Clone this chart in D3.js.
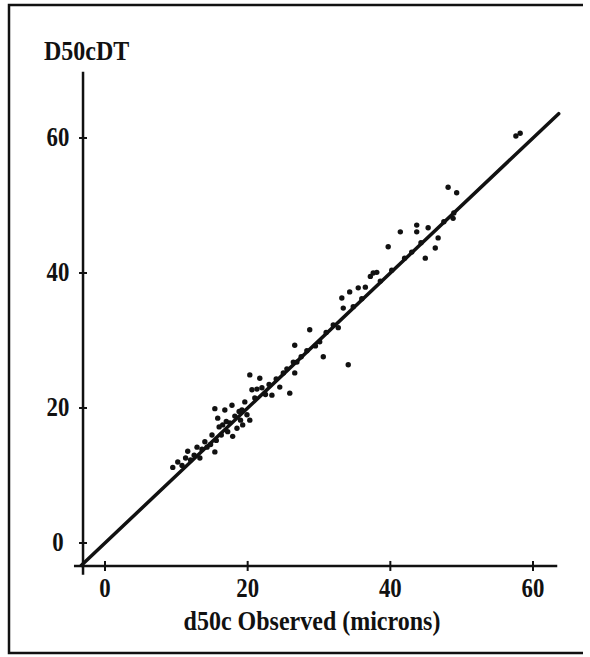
<!DOCTYPE html>
<html>
<head>
<meta charset="utf-8">
<script src="https://cdn.jsdelivr.net/npm/d3@7"></script>
<style>
body { margin: 0; background: #fff; }
text { font-family: "Liberation Serif", "Times New Roman", serif; font-weight: bold; font-size: 24px; fill: #111; }
</style>
</head>
<body>
<div id="plot"></div>
<script>
// observed d50c (microns) vs D50cDT
var observed = [9.5, 10.2, 10.8, 11.3, 11.6, 12.0, 12.5, 12.9, 13.3, 13.6, 14.0, 14.3, 14.8, 15.4, 15.0, 15.4, 15.6,
  15.8, 16.0, 16.3, 16.5, 16.8, 17.0, 17.2, 17.5, 17.8, 17.9, 18.2, 18.5, 18.8, 19.0, 19.2, 19.3, 19.6, 19.9, 20.3, 20.3, 20.6, 21.0, 21.3, 21.7, 22.0,
  22.5, 23.0, 23.4, 24.0, 24.5, 25.0, 25.5, 25.9, 26.4, 26.6, 26.6, 26.9, 27.5, 28.3, 28.7, 29.5, 30.1, 30.6, 31.0,
  32.0, 32.7, 33.2, 33.4, 34.1, 34.3, 34.8, 35.5, 36.0, 36.5, 37.2, 37.6, 38.1, 38.6, 39.7, 40.2,
  41.4, 42.0, 43.0, 43.7, 43.7, 44.3, 44.9, 45.3, 46.3, 46.7, 47.5, 48.1, 48.8, 48.9, 49.3,
  57.6, 58.2];
var predicted = [11.2, 12.0, 11.5, 12.6, 13.6, 12.3, 13.0, 14.2, 12.6, 13.9, 15.0, 14.2, 14.6, 13.5, 16.0, 19.9, 15.2,
  18.5, 17.2, 16.0, 17.5, 19.7, 18.0, 16.5, 17.8, 20.4, 15.8, 18.8, 17.0, 19.5, 18.2, 19.7, 17.5, 20.9, 19.0, 18.2, 24.9, 22.7, 21.5, 22.8, 24.4, 23.0,
  22.0, 23.5, 21.9, 24.3, 23.1, 25.2, 25.8, 22.2, 26.8, 25.2, 29.3, 26.8, 27.6, 28.5, 31.6, 29.2, 29.8, 27.6, 31.2,
  32.3, 31.9, 36.3, 34.8, 26.4, 37.2, 35.0, 37.8, 36.2, 37.9, 39.5, 40.0, 40.1, 38.8, 43.9, 40.4,
  46.1, 42.2, 43.1, 47.1, 46.1, 44.5, 42.2, 46.7, 43.7, 45.2, 47.6, 52.7, 48.1, 48.9, 51.9,
  60.3, 60.7];
var fitLine = [-3.3, 63.6];
var xTicks = [0, 20, 40, 60];
var yTicks = [0, 20, 40, 60];

var W = 590, H = 657;
var svg = d3.select("#plot").append("svg").attr("width", W).attr("height", H);

var x = d3.scaleLinear().domain([0, 60]).range([105, 533]);
var y = d3.scaleLinear().domain([0, 60]).range([543, 138]);

// frame (top, left, bottom)
svg.append("path").attr("d", "M583,5H9V653H583").attr("fill", "none").attr("stroke", "#111").attr("stroke-width", 2.5);

var ax = x(-3.08), ay = y(-3.4);

// axes lines
svg.append("line").attr("x1", ax).attr("x2", ax).attr("y1", y(69.8)).attr("y2", y(-4.7)).attr("stroke", "#111").attr("stroke-width", 2.5);
svg.append("line").attr("x1", x(-4.35)).attr("x2", x(63.4)).attr("y1", ay).attr("y2", ay).attr("stroke", "#111").attr("stroke-width", 2.5);

// ticks
svg.selectAll(".yt").data(yTicks).enter().append("line")
  .attr("x1", ax - 4).attr("x2", ax + 4).attr("y1", function(d) { return y(d); }).attr("y2", function(d) { return y(d); })
  .attr("stroke", "#111").attr("stroke-width", 2);
svg.selectAll(".xt").data(xTicks).enter().append("line")
  .attr("y1", ay - 5).attr("y2", ay + 5).attr("x1", function(d) { return x(d); }).attr("x2", function(d) { return x(d); })
  .attr("stroke", "#111").attr("stroke-width", 2);

// tick labels, stretched a bit to look like the tall scanned type
svg.selectAll(".yl").data(yTicks).enter().append("text")
  .attr("transform", function(d) { return "translate(58," + (y(d) + 8) + ") scale(0.95,1.12)"; })
  .attr("text-anchor", "middle").text(function(d) { return d; });
svg.selectAll(".xl").data(xTicks).enter().append("text")
  .attr("transform", function(d) { return "translate(" + x(d) + ",597) scale(0.95,1.12)"; })
  .attr("text-anchor", "middle").text(function(d) { return d; });

// titles
svg.append("text").attr("transform", "translate(44,60) scale(1,1.1)").text("D50cDT");
svg.append("text").attr("transform", "translate(312,630) scale(1,1.1)").attr("text-anchor", "middle").text("d50c Observed (microns)");

// fitted 1:1 line
svg.append("line").attr("x1", x(fitLine[0])).attr("y1", y(fitLine[0])).attr("x2", x(fitLine[1])).attr("y2", y(fitLine[1]))
  .attr("stroke", "#111").attr("stroke-width", 3.5).attr("stroke-linecap", "round");

// points
svg.selectAll(".pt").data(observed).enter().append("circle")
  .attr("cx", function(d) { return x(d); })
  .attr("cy", function(d, i) { return y(predicted[i]); })
  .attr("r", 2.7).attr("fill", "#111");
</script>
</body>
</html>
